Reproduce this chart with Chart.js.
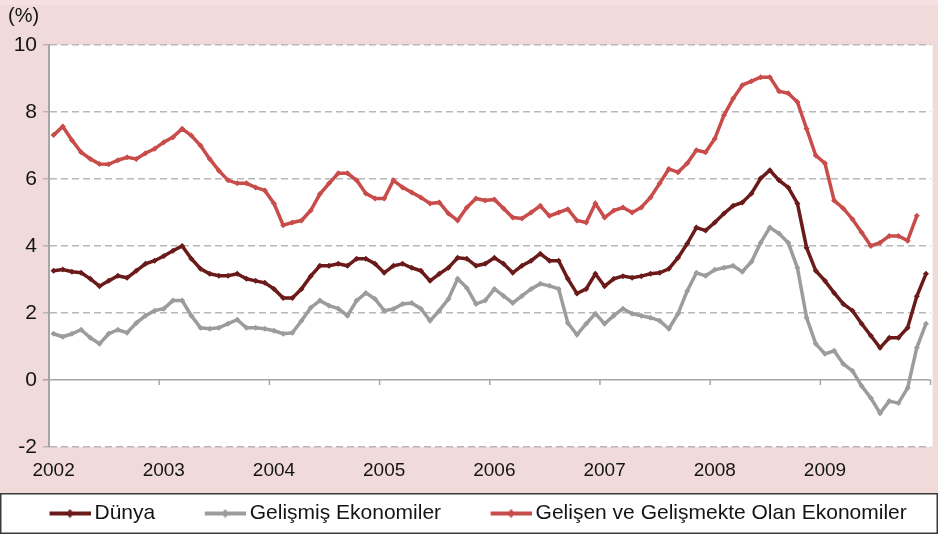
<!DOCTYPE html>
<html>
<head>
<meta charset="utf-8">
<script src="https://cdn.jsdelivr.net/npm/chart.js@4.4.1/dist/chart.umd.min.js"></script>
<style>
    html, body { margin: 0; padding: 0; }
    body {
        width: 938px;
        height: 534px;
        overflow: hidden;
        background: linear-gradient(#f8e0e2 0, #f8e0e2 5px, #f1dbda 5px);
    }
</style>
</head>
<body>
<canvas id="grafik" width="938" height="534"></canvas>
<script>
// Yıllar (x ekseni etiketleri)
const yillar = ['2002', '2003', '2004', '2005', '2006', '2007', '2008', '2009'];

// Aylık kategoriler
const aylar = [];
yillar.forEach(yil => {
    for (let m = 1; m <= 12; m++) aylar.push(yil + '-' + String(m).padStart(2, '0'));
});

// Seriler (%)
const dunya = [
    3.26, 3.30, 3.23, 3.20, 3.02, 2.80, 2.96, 3.11, 3.05, 3.26, 3.47, 3.56,
    3.70, 3.86, 4.00, 3.62, 3.32, 3.17, 3.11, 3.11, 3.17, 3.02, 2.96, 2.90,
    2.72, 2.45, 2.45, 2.72, 3.10, 3.41, 3.41, 3.47, 3.41, 3.62, 3.62, 3.47,
    3.20, 3.41, 3.47, 3.35, 3.26, 2.96, 3.17, 3.35, 3.65, 3.62, 3.41, 3.47,
    3.65, 3.47, 3.20, 3.41, 3.56, 3.77, 3.56, 3.56, 3.02, 2.58, 2.72, 3.17,
    2.80, 3.02, 3.10, 3.05, 3.10, 3.17, 3.20, 3.32, 3.65, 4.07, 4.55, 4.46,
    4.70, 4.97, 5.20, 5.30, 5.57, 6.02, 6.26, 5.96, 5.75, 5.27, 3.95, 3.26,
    2.96, 2.60, 2.27, 2.07, 1.68, 1.32, 0.96, 1.26, 1.26, 1.56, 2.50, 3.17
];
const gelismis = [
    1.38, 1.29, 1.38, 1.50, 1.26, 1.08, 1.38, 1.50, 1.41, 1.70, 1.92, 2.07,
    2.13, 2.37, 2.37, 1.92, 1.56, 1.53, 1.56, 1.68, 1.80, 1.56, 1.56, 1.53,
    1.47, 1.38, 1.41, 1.77, 2.16, 2.37, 2.22, 2.13, 1.92, 2.37, 2.60, 2.42,
    2.07, 2.12, 2.27, 2.30, 2.13, 1.77, 2.07, 2.42, 3.02, 2.75, 2.27, 2.37,
    2.72, 2.51, 2.30, 2.51, 2.72, 2.87, 2.81, 2.72, 1.70, 1.35, 1.68, 1.98,
    1.68, 1.92, 2.13, 1.98, 1.92, 1.86, 1.77, 1.53, 1.98, 2.66, 3.20, 3.11,
    3.29, 3.35, 3.41, 3.23, 3.53, 4.10, 4.55, 4.37, 4.10, 3.35, 1.86, 1.08,
    0.78, 0.87, 0.48, 0.27, -0.18, -0.54, -0.99, -0.63, -0.69, -0.24, 0.96, 1.68
];
const gelisen = [
    7.31, 7.57, 7.16, 6.80, 6.60, 6.45, 6.44, 6.56, 6.65, 6.60, 6.77, 6.90,
    7.10, 7.25, 7.50, 7.30, 7.00, 6.60, 6.25, 5.96, 5.87, 5.87, 5.75, 5.66,
    5.27, 4.62, 4.70, 4.76, 5.06, 5.55, 5.87, 6.17, 6.17, 5.96, 5.57, 5.42,
    5.42, 5.96, 5.75, 5.60, 5.45, 5.27, 5.30, 4.97, 4.76, 5.15, 5.42, 5.36,
    5.39, 5.12, 4.85, 4.82, 5.00, 5.20, 4.90, 5.00, 5.10, 4.76, 4.70, 5.27,
    4.85, 5.06, 5.15, 5.00, 5.15, 5.45, 5.87, 6.30, 6.20, 6.47, 6.86, 6.80,
    7.20, 7.90, 8.40, 8.80, 8.92, 9.04, 9.04, 8.62, 8.56, 8.30, 7.50, 6.70,
    6.47, 5.36, 5.12, 4.80, 4.40, 4.00, 4.10, 4.30, 4.30, 4.16, 4.90, null
];

const seriAdlari = ['Dünya', 'Gelişmiş Ekonomiler', 'Gelişen ve Gelişmekte Olan Ekonomiler'];
const renkler = ['#6b1a1a', '#9c9c9c', '#c84d4a'];

const yaziTipi = "'Liberation Sans', Arial, sans-serif";
Chart.defaults.font.family = yaziTipi;
Chart.defaults.color = '#141414';

// Lejant işaretleri: çizgi + küçük elmas (sol taraf boş bırakılıyor)
function isaretOlustur(renk) {
    const c = document.createElement('canvas');
    c.width = 87;
    c.height = 10;
    const g = c.getContext('2d');
    g.strokeStyle = renk;
    g.lineWidth = 4;
    g.beginPath();
    g.moveTo(46, 5);
    g.lineTo(87, 5);
    g.stroke();
    g.fillStyle = renk;
    g.beginPath();
    g.moveTo(66.5, 0.5);
    g.lineTo(70.5, 5);
    g.lineTo(66.5, 9.5);
    g.lineTo(62.5, 5);
    g.closePath();
    g.fill();
    return c;
}
const isaretler = renkler.map(isaretOlustur);

// Çizim alanı beyaz, lejant kutusu
const arkaPlan = {
    id: 'arkaPlan',
    beforeDraw(chart) {
        const {ctx, chartArea, legend} = chart;
        ctx.save();
        ctx.fillStyle = '#ffffff';
        ctx.fillRect(chartArea.left, chartArea.top, chartArea.right - chartArea.left + 2, chartArea.bottom - chartArea.top);
        if (legend) {
            ctx.fillRect(0, legend.top, chart.width, chart.height - legend.top);
            ctx.strokeStyle = '#3a3a3a';
            ctx.lineWidth = 1.5;
            ctx.strokeRect(0.75, legend.top + 0.75, chart.width - 1.5, chart.height - legend.top - 1.5);
        }
        ctx.restore();
    },
    afterDraw(chart) {
        const {ctx, chartArea} = chart;
        ctx.save();
        ctx.fillStyle = '#141414';
        ctx.font = '20px ' + yaziTipi;
        ctx.textBaseline = 'middle';
        ctx.textAlign = 'left';
        ctx.fillText('(%)', 8, chartArea.top - 29);
        ctx.restore();
    }
};

// Sıfır çizgisi üzerindeki yıl işaretleri
const yilIsaretleri = {
    id: 'yilIsaretleri',
    beforeDatasetsDraw(chart) {
        const {ctx, scales} = chart;
        const x = scales.x, y = scales.y;
        const adim = x.getPixelForValue(1) - x.getPixelForValue(0);
        const y0 = y.getPixelForValue(0);
        ctx.save();
        ctx.strokeStyle = '#a6a6a6';
        ctx.lineWidth = 1.5;
        for (let j = 0; j <= yillar.length; j++) {
            const px = x.getPixelForValue(j * 12) - adim / 2;
            ctx.beginPath();
            ctx.moveTo(px, y0);
            ctx.lineTo(px, y0 + 5);
            ctx.stroke();
        }
        ctx.restore();
    }
};

const seriler = [dunya, gelismis, gelisen];

new Chart(document.getElementById('grafik'), {
    type: 'line',
    data: {
        labels: aylar,
        datasets: seriler.map((veri, i) => ({
            label: seriAdlari[i],
            data: veri,
            borderColor: renkler[i],
            backgroundColor: renkler[i],
            borderWidth: 3.5,
            pointStyle: 'rectRot',
            pointRadius: 3,
            pointBorderWidth: 0,
            pointBackgroundColor: renkler[i],
            tension: 0,
            spanGaps: false
        }))
    },
    options: {
        responsive: false,
        animation: false,
        devicePixelRatio: 1,
        layout: { padding: { top: 45, right: 6, left: 0, bottom: 0 } },
        scales: {
            x: {
                type: 'category',
                offset: true,
                grid: { display: false, drawTicks: false },
                border: { display: false },
                ticks: {
                    autoSkip: false,
                    maxRotation: 0,
                    padding: 12,
                    font: { size: 19 },
                    color: '#141414',
                    callback: function(val, idx) {
                        return idx % 12 === 0 ? this.getLabelForValue(val).slice(0, 4) : '';
                    }
                },
                afterFit: scale => { scale.height = 46; }
            },
            y: {
                min: -2,
                max: 10,
                ticks: { stepSize: 2, padding: 6, font: { size: 21 }, color: '#141414' },
                grid: {
                    color: ctx => ctx.tick && ctx.tick.value === 0 ? '#a6a6a6' : '#b8b8b8',
                    lineWidth: 1.5,
                    tickLength: 6
                },
                border: {
                    display: true,
                    color: '#a6a6a6',
                    width: 2,
                    dash: ctx => ctx.tick && ctx.tick.value === 0 ? [] : [7, 4]
                },
                afterFit: scale => { scale.width = 49; }
            }
        },
        plugins: {
            legend: {
                position: 'bottom',
                align: 'start',
                maxHeight: 42,
                labels: {
                    usePointStyle: true,
                    pointStyleWidth: 74,
                    padding: 10,
                    color: '#141414',
                    font: { size: 21 },
                    generateLabels: chart => {
                        const items = Chart.defaults.plugins.legend.labels.generateLabels(chart);
                        items.forEach((it, i) => { it.pointStyle = isaretler[i]; });
                        return items;
                    }
                }
            },
            tooltip: { enabled: false }
        }
    },
    plugins: [arkaPlan, yilIsaretleri]
});
</script>
</body>
</html>
